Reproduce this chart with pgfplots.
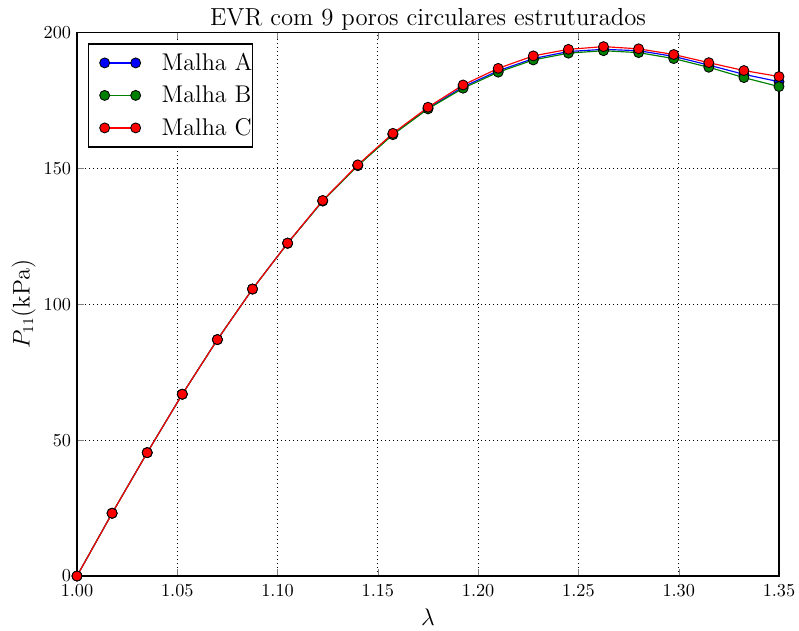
\documentclass[border=0pt]{standalone}
\usepackage{pgfplots}
\pgfplotsset{compat=1.18}
\pgfplotstableread{
x A B C
1.0000 0 0 0
1.0175 23.1 23.1 23.1
1.0350 45.4 45.4 45.4
1.0525 66.9 66.9 66.9
1.0700 87.0 87.0 87.0
1.0875 105.6 105.6 105.6
1.1050 122.5 122.4 122.5
1.1225 138.0 138.0 138.2
1.1400 151.1 151.0 151.3
1.1575 162.6 162.4 162.9
1.1750 172.1 171.9 172.5
1.1925 180.0 179.5 180.7
1.2100 185.9 185.4 186.8
1.2275 190.4 189.9 191.4
1.2450 193.0 192.4 193.8
1.2625 193.8 193.3 194.8
1.2800 193.3 192.6 194.0
1.2975 191.2 190.4 191.9
1.3150 188.0 187.2 188.9
1.3325 184.6 183.4 186.0
1.3500 181.9 180.1 183.8
}\datatable
\definecolor{mplgreen}{rgb}{0,0.5,0}
\begin{document}
\begin{tikzpicture}
\begin{axis}[
  scale only axis,
  width=421.2pt, height=326.1pt,
  xmin=1.0, xmax=1.35, ymin=0, ymax=200,
  xtick={1.00,1.05,1.10,1.15,1.20,1.25,1.30,1.35},
  ytick={0,50,100,150,200},
  xticklabel style={yshift=-1.5pt, /pgf/number format/.cd, fixed, fixed zerofill, precision=2},
  yticklabel style={/pgf/number format/.cd, fixed},
  tick label style={font=\fontsize{11.4}{13}\selectfont},
  tick align=inside,
  tick pos=both,
  major tick length=4pt,
  axis line style={line width=0.8pt},
  grid=major,
  major grid style={black, dotted, line width=0.5pt},
  title={EVR com 9 poros circulares estruturados},
  every axis title/.style={font=\fontsize{14.8}{16}\selectfont, at={(0.5,1)}, anchor=base, inner sep=0pt, yshift=4.5pt},
  xlabel={$\lambda$},
  ylabel={$P_{11}(\mathrm{kPa})$},
  label style={font=\fontsize{13.5}{16}\selectfont},
  xlabel style={inner sep=0pt, yshift=-4pt},
  ylabel style={yshift=-2pt},
  every axis plot/.append style={line width=0.7pt, mark=*, mark size=3pt},
  legend image code/.code={%
    \path[draw=none,fill=none] (-9.8pt,-9.75pt) rectangle (34.2pt,9.75pt);
    \draw[mark repeat=1,#1] plot coordinates {(0pt,0pt) (18.6pt,0pt)};},
  legend style={at={(0,1)}, anchor=north west, xshift=6.4pt, yshift=-6.5pt,
    draw=black, line width=0.8pt, font=\fontsize{14.5}{16}\selectfont,
    row sep=0pt, inner xsep=0pt, inner ysep=1.6pt,
    nodes={inner sep=0pt}},
  legend cell align=left,
]
\addplot[blue, mark options={fill=blue, draw=black, line width=0.5pt}] table[x=x,y=A] {\datatable};
\addlegendentry{Malha A\hspace{6pt}}
\addplot[mplgreen, mark options={fill=mplgreen, draw=black, line width=0.5pt}] table[x=x,y=B] {\datatable};
\addlegendentry{Malha B\hspace{6pt}}
\addplot[red, mark options={fill=red, draw=black, line width=0.5pt}] table[x=x,y=C] {\datatable};
\addlegendentry{Malha C\hspace{6pt}}
\end{axis}
\pgfresetboundingbox
\path ([shift={(-46.2pt,-32.4pt)}]current axis.south west) rectangle ([shift={(12pt,19.5pt)}]current axis.north east);
\end{tikzpicture}
\end{document}
